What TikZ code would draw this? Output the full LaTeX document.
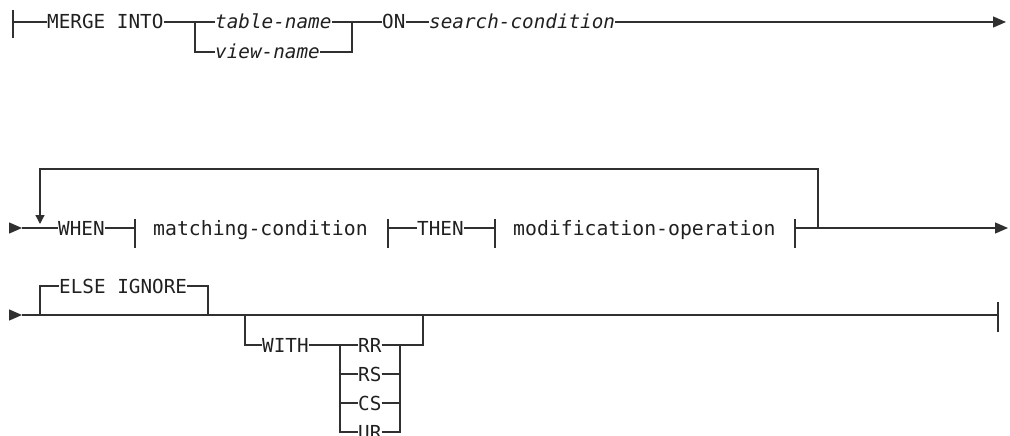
\documentclass[tikz,border=0pt]{standalone}
\usepackage{fontspec}
\newfontfamily\diag{DejaVu Sans Mono}[ItalicFont={DejaVu Sans Mono Oblique}]
\usetikzlibrary{arrows.meta}
\definecolor{ln}{HTML}{303030}
\definecolor{tx}{HTML}{202020}
\tikzset{
  kw/.style={inner sep=0pt, text height=16pt, text depth=2pt, anchor=west,
    font=\diag\fontsize{19.3}{20}\selectfont, text=tx},
  var/.style={kw, font=\diag\itshape\fontsize{19.3}{20}\selectfont},
  frag/.style={kw, font=\diag\fontsize{19.8}{20}\selectfont},
  rail/.style={draw=ln, line width=1.3pt},
  arr/.style={-{Triangle[length=13pt,width=11pt]}},
  downarr/.style={-{Triangle[length=9pt,width=9pt]}}
}
\begin{document}
\begin{tikzpicture}[x=1pt,y=-1pt]
\useasboundingbox (0,0) rectangle (1010,436);

% ---------- row 1 ----------
\coordinate (b0t) at (13,10);
\coordinate (b0b) at (13,38);
\coordinate (r1s) at (13,22);
\node[kw]  (merge) at (47,22)  {MERGE INTO};
\coordinate (j1) at (195,22);
\node[var] (tbl)   at (215,22) {table-name};
\node[var] (view)  at (215,52) {view-name};
\coordinate (j2) at (352,22);
\node[kw]  (on)    at (382,22) {ON};
\node[var] (sc)    at (429,22) {search-condition};
\coordinate (e1) at (1006,22);

\draw[rail] (b0t) -- (b0b);
\draw[rail] (r1s) -- (merge.west);
\draw[rail] (merge.east) -- (tbl.west);
\draw[rail] (j1) |- (view.west);
\draw[rail] (tbl.east) -- (j2) -- (on.west);
\draw[rail] (view.east) -| (j2);
\draw[rail] (on.east) -- (sc.west);
\draw[rail, arr] (sc.east) -- (e1);

% ---------- row 2 ----------
\coordinate (s2a) at (9,228);
\coordinate (s2b) at (22,228);
\coordinate (lpL) at (40,228);
\coordinate (lpLT) at (40,169);
\coordinate (lpArr) at (40,224);
\coordinate (lpR) at (818,228);
\coordinate (lpRT) at (818,169);
\node[kw]   (when) at (58,228)  {WHEN};
\coordinate (bA) at (135,228);
\coordinate (bAt) at (135,219);
\coordinate (bAb) at (135,248);
\node[frag] (mc)   at (153,228) {matching-condition};
\coordinate (bB) at (388,228);
\coordinate (bBt) at (388,219);
\coordinate (bBb) at (388,248);
\node[kw]   (then) at (417,228) {THEN};
\coordinate (bC) at (495,228);
\coordinate (bCt) at (495,219);
\coordinate (bCb) at (495,248);
\node[frag] (mo)   at (513,228) {modification-operation};
\coordinate (bD) at (795,228);
\coordinate (bDt) at (795,219);
\coordinate (bDb) at (795,248);
\coordinate (e2) at (1008,228);

\draw[rail, arr] (s2a) -- (s2b);
\draw[rail] (s2b) -- (when.west);
\draw[rail, downarr] (lpR) -- (lpRT) -- (lpLT) -- (lpArr);
\draw[rail] (when.east) -- (bA);
\draw[rail] (bAt) -- (bAb);
\draw[rail] (bBt) -- (bBb);
\draw[rail] (bB) -- (then.west);
\draw[rail] (then.east) -- (bC);
\draw[rail] (bCt) -- (bCb);
\draw[rail] (bDt) -- (bDb);
\draw[rail, arr] (bD) -- (e2);

% ---------- row 3 ----------
\coordinate (s3a) at (9,315);
\coordinate (s3b) at (22,315);
\coordinate (eL) at (40,315);
\coordinate (eR) at (208,315);
\node[kw] (else) at (59,286) {ELSE IGNORE};
\coordinate (wL) at (245,315);
\node[kw] (with) at (262,345) {WITH};
\coordinate (cL) at (340,345);
\node[kw] (rr) at (358,345) {RR};
\node[kw] (rs) at (358,374) {RS};
\node[kw] (cs) at (358,403) {CS};
\node[kw] (ur) at (358,432) {UR};
\coordinate (cR) at (400,345);
\coordinate (wR) at (423,315);
\coordinate (wRb) at (423,345);
\coordinate (fin) at (998,315);
\coordinate (fint) at (998,302);
\coordinate (finb) at (998,332);

\draw[rail, arr] (s3a) -- (s3b);
\draw[rail] (s3b) -- (fin);
\draw[rail] (fint) -- (finb);
\draw[rail] (eL) |- (else.west);
\draw[rail] (else.east) -| (eR);
\draw[rail] (wL) |- (with.west);
\draw[rail] (with.east) -- (rr.west);
\draw[rail] (cL) |- (ur.west);
\draw[rail] (cL |- rs.west) -- (rs.west);
\draw[rail] (cL |- cs.west) -- (cs.west);
\draw[rail] (rr.east) -- (wRb) -- (wR);
\draw[rail] (ur.east) -| (cR);
\draw[rail] (rs.east) -- (cR |- rs.east);
\draw[rail] (cs.east) -- (cR |- cs.east);
\end{tikzpicture}
\end{document}
